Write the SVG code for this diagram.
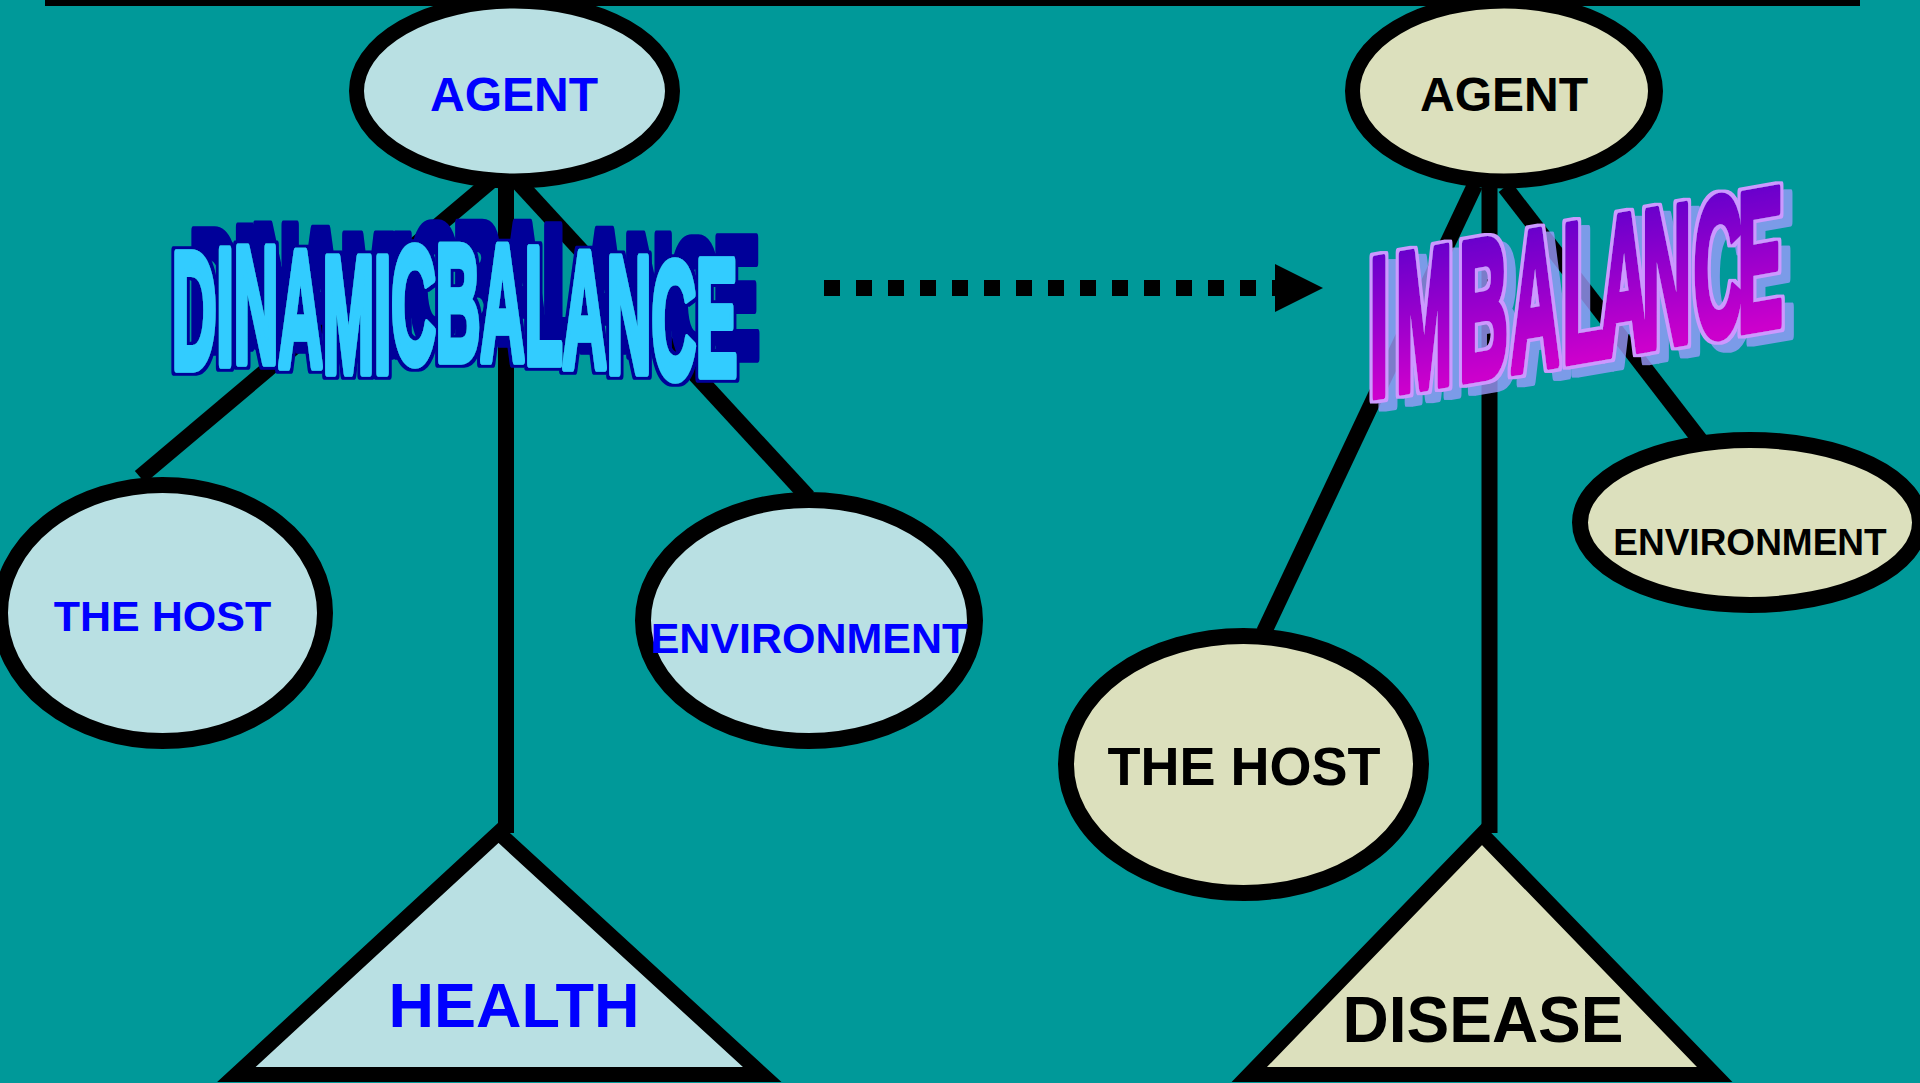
<svg xmlns="http://www.w3.org/2000/svg" width="1920" height="1083" viewBox="0 0 1920 1083">
<defs>
<style>
.ln{stroke:#000;stroke-width:16;fill:none}
.nl{fill:#B9E0E3;stroke:#000;stroke-width:16}
.nr{fill:#DCE0BD;stroke:#000;stroke-width:16}
.t{font-family:"Liberation Sans",Arial,sans-serif;font-weight:bold;text-anchor:middle}
.blue{fill:#0000FF}
.blk{fill:#000}
.wa{font-family:"Liberation Sans",Arial,sans-serif;font-weight:bold;stroke-linejoin:round}
</style>
<linearGradient id="gIm" gradientUnits="userSpaceOnUse" x1="0" y1="-145" x2="0" y2="0">
<stop offset="0" stop-color="#6600CC"/>
<stop offset="1" stop-color="#CC00CC"/>
</linearGradient>
<filter id="fDin" filterUnits="userSpaceOnUse" x="140" y="190" width="650" height="220">
<feMorphology in="SourceAlpha" operator="dilate" radius="2.5" result="d"/>
<feFlood flood-color="#000099"/>
<feComposite in2="d" operator="in" result="outline"/>
<feOffset in="outline" dx="20" dy="-20" result="shadow"/>
<feMerge><feMergeNode in="shadow"/><feMergeNode in="outline"/><feMergeNode in="SourceGraphic"/></feMerge>
</filter>
<filter id="fIm" filterUnits="userSpaceOnUse" x="1340" y="160" width="470" height="270">
<feMorphology in="SourceAlpha" operator="dilate" radius="2.5" result="d"/>
<feFlood flood-color="#CC99FF"/>
<feComposite in2="d" operator="in" result="outline"/>
<feFlood flood-color="#9A9BFC" flood-opacity="0.8"/>
<feComposite in2="d" operator="in"/>
<feOffset dx="9" dy="8" result="shadow"/>
<feMerge><feMergeNode in="shadow"/><feMergeNode in="outline"/><feMergeNode in="SourceGraphic"/></feMerge>
</filter>
</defs>
<rect x="0" y="0" width="1920" height="1083" fill="#009999"/>
<rect x="45" y="0" width="1815" height="6" fill="#000"/>

<g id="connectors">
<line class="ln" x1="497" y1="176" x2="140" y2="477"/>
<line class="ln" x1="518" y1="182" x2="808" y2="497"/>
<line class="ln" x1="506" y1="180" x2="506" y2="833"/>
<line class="ln" x1="1475" y1="185" x2="1264" y2="632"/>
<line class="ln" x1="1505" y1="187" x2="1700" y2="440"/>
<line class="ln" x1="1489.5" y1="180" x2="1489.5" y2="833"/>
<g id="arrow">
<line x1="824" y1="288" x2="1288" y2="288" stroke="#000" stroke-width="16" stroke-dasharray="16 16"/>
<polygon points="1275,264 1323,288 1275,312" fill="#000"/>
</g>
</g>

<g id="agent-left">
<ellipse class="nl" cx="514.5" cy="91" rx="158" ry="90" style="stroke-width:15"/>
<text class="t blue" x="514" y="111" font-size="48">AGENT</text>
</g>
<g id="host-left">
<ellipse class="nl" cx="162.5" cy="613" rx="162.5" ry="128"/>
<text class="t blue" x="162.5" y="631" font-size="43">THE HOST</text>
</g>
<g id="env-left">
<ellipse class="nl" cx="809" cy="620.5" rx="166" ry="120.5"/>
<text class="t blue" x="809.5" y="653" font-size="43">ENVIRONMENT</text>
</g>
<g id="health">
<polygon class="nl" points="498.5,832.8 762.2,1074.5 236.3,1074.5" style="stroke-width:15"/>
<text class="t blue" x="514" y="1027" font-size="63">HEALTH</text>
</g>

<g id="agent-right">
<ellipse class="nr" cx="1504" cy="91" rx="151.5" ry="90" style="stroke-width:15"/>
<text class="t blk" x="1504" y="111" font-size="48">AGENT</text>
</g>
<g id="host-right">
<ellipse class="nr" cx="1243.5" cy="764.5" rx="177.5" ry="128.5"/>
<text class="t blk" x="1244" y="785" font-size="54">THE HOST</text>
</g>
<g id="env-right">
<ellipse class="nr" cx="1750" cy="522.5" rx="170" ry="82.5"/>
<text class="t blk" x="1750" y="555" font-size="37">ENVIRONMENT</text>
</g>
<g id="disease">
<polygon class="nr" points="1482,834.2 1714.7,1074.5 1249.3,1074.5" style="stroke-width:15"/>
<text class="t blk" x="1483" y="1042" font-size="64">DISEASE</text>
</g>

<g id="dinamic-balance" filter="url(#fDin)">
<text class="wa" transform="translate(172,0) scale(0.3737,1)" font-size="165" fill="#33CCFF" stroke="#33CCFF" stroke-width="7" vector-effect="non-scaling-stroke" x="0 119.1 165 284.1 403.2 540.6 586.5 705.6 824.7 943.8 1044.6 1163.7 1282.8 1401.9" y="368 364 362 366 372 372 362 360 360 363 367 372 377 375">DINAMICBALANCE</text>
</g>

<g id="imbalance" filter="url(#fIm)">
<text class="wa" transform="translate(1368,397) skewY(-10) scale(0.345,1)" font-size="197" fill="url(#gIm)" stroke="url(#gIm)" stroke-width="7" vector-effect="non-scaling-stroke" x="4.3 80.3 263.8 413 563 670.7 793.9 943.5 1070.7" y="0">IMBALANCE</text>
</g>
</svg>
